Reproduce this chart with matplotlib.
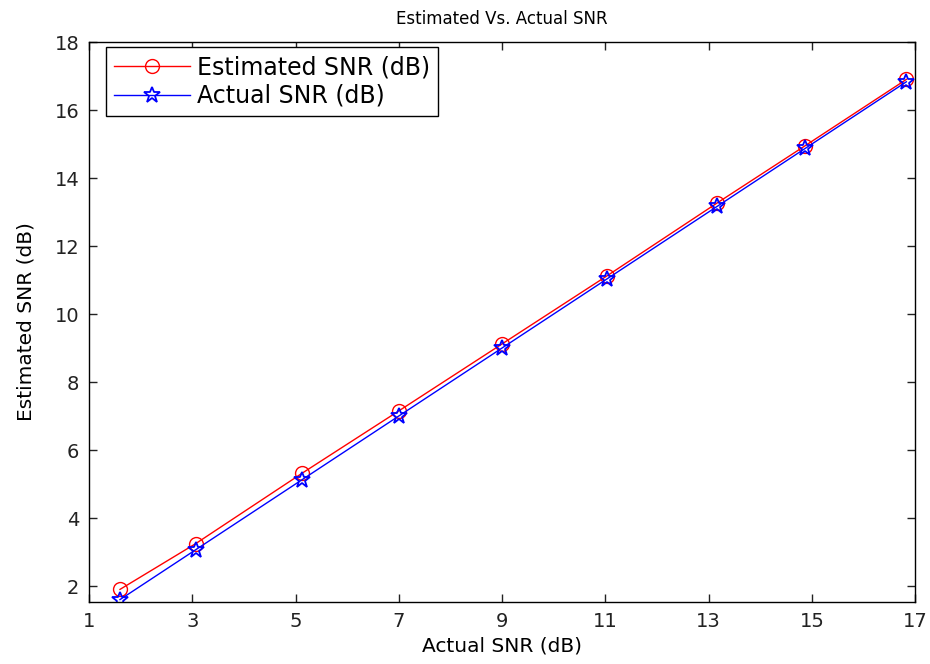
import matplotlib
matplotlib.use("Agg")
import matplotlib.pyplot as plt

# SNR values (dB)
actual_snr = [1.6, 3.07, 5.13, 7.0, 9.0, 11.03, 13.17, 14.87, 16.83]
estimated_snr = [1.9, 3.25, 5.32, 7.15, 9.12, 11.12, 13.27, 14.95, 16.9]
x_ticks = [1, 3, 5, 7, 9, 11, 13, 15, 17]
y_ticks = [2, 4, 6, 8, 10, 12, 14, 16, 18]

plt.rcParams['font.family'] = ['DejaVu Sans']

fig = plt.figure(figsize=(9.3, 6.64), dpi=100)
ax = fig.add_axes([0.0957, 0.0934, 0.8883, 0.8433])

ax.plot(actual_snr, estimated_snr, color='red', lw=1.0, marker='o',
        markersize=10, markerfacecolor='none', markeredgecolor='red',
        markeredgewidth=1.0, label='Estimated SNR (dB)')
ax.plot(actual_snr, actual_snr, color='blue', lw=1.0, marker='*',
        markersize=12, markerfacecolor='none', markeredgecolor='blue',
        markeredgewidth=1.3, label='Actual SNR (dB)')

ax.set_xlim(1, 17)
ax.set_ylim(1.53, 18)
ax.set_xticks(x_ticks)
ax.set_yticks(y_ticks)
ax.tick_params(direction='in', top=True, right=True, length=6, width=1,
               labelsize=14, pad=7, colors='#222222')
for s in ax.spines.values():
    s.set_linewidth(1.0)

ax.set_title('Estimated Vs. Actual SNR', fontsize=12, pad=13)
ax.set_xlabel('Actual SNR (dB)', fontsize=14.5, labelpad=4)
ax.set_ylabel('Estimated SNR (dB)', fontsize=14.5, labelpad=14)

# legend box placed just inside the upper-left corner
bx = 106 / 930
by = (664 - 47) / 664
leg = ax.legend(loc='upper left', bbox_to_anchor=(bx, by),
                bbox_transform=fig.transFigure, fontsize=17, fancybox=False,
                edgecolor='black', framealpha=1, borderaxespad=0,
                handlelength=3.2, borderpad=0.35, labelspacing=0.2,
                handletextpad=0.3)
leg.get_frame().set_linewidth(1.0)

fig.savefig('out.png', dpi=100)
